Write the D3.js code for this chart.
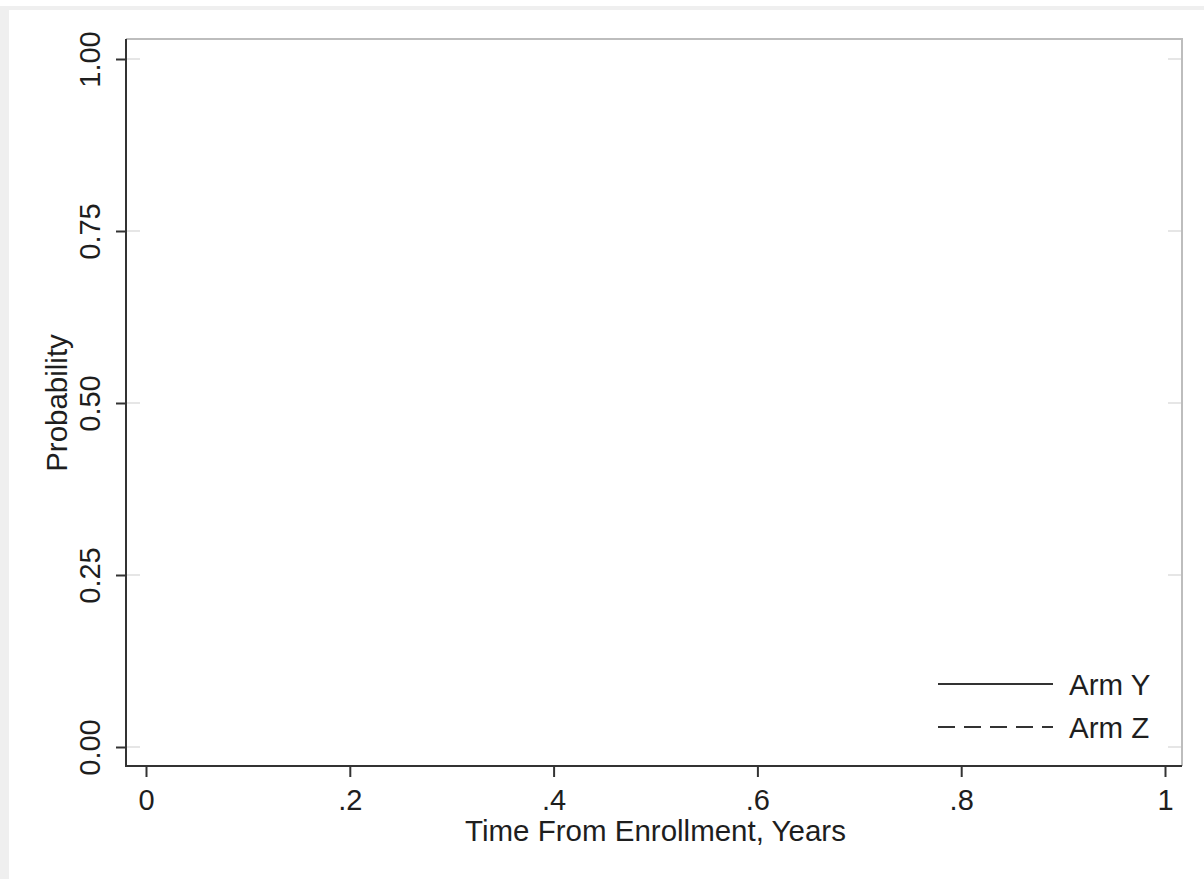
<!DOCTYPE html>
<html>
<head>
<meta charset="utf-8">
<script src="https://cdn.jsdelivr.net/npm/d3@7"></script>
<style>
  body { margin: 0; background: #fff; }
  text { font-family: "Liberation Sans", Arial, sans-serif; fill: #1e1e1e; }
</style>
</head>
<body>
<svg id="chart" width="1204" height="879"></svg>
<script>
// tick values + labels
var xTicks = [0, 0.2, 0.4, 0.6, 0.8, 1];
var xTickLabels = ["0", ".2", ".4", ".6", ".8", "1"];
var yTicks = [0, 0.25, 0.5, 0.75, 1];
var yTickLabels = ["0.00", "0.25", "0.50", "0.75", "1.00"];
// series (no points shown in the figure)
var seriesNames = ["Arm Y", "Arm Z"];
var armY = [];
var armZ = [];

var width = 1204, height = 879;
// plot frame
var frame = {left: 126, top: 39, right: 1182, bottom: 766};

var svg = d3.select("#chart");

// gray window border
svg.append("rect").attr("x", 0).attr("y", 6).attr("width", width).attr("height", height - 6).attr("fill", "#efefef");
svg.append("rect").attr("x", 9).attr("y", 10).attr("width", width - 9).attr("height", height - 10).attr("fill", "#fff");

var x = d3.scaleLinear().domain([0, 1]).range([146, 1165]);
var y = d3.scaleLinear().domain([0, 1]).range([747, 59]);

// faint grid stubs at the y ticks
yTicks.forEach(function(v) {
  svg.append("line").attr("x1", frame.left + 1).attr("x2", frame.left + 14)
    .attr("y1", y(v)).attr("y2", y(v)).attr("stroke", "#e6e6e6").attr("stroke-width", 2);
  svg.append("line").attr("x1", frame.right - 14).attr("x2", frame.right - 1)
    .attr("y1", y(v)).attr("y2", y(v)).attr("stroke", "#e6e6e6").attr("stroke-width", 2);
});

// top + right frame (light)
svg.append("path")
  .attr("d", "M" + frame.left + "," + frame.top + "H" + frame.right + "V" + frame.bottom)
  .attr("fill", "none").attr("stroke", "#bdbdbd").attr("stroke-width", 2);

// x axis
var xAxis = svg.append("g")
  .attr("transform", "translate(0," + frame.bottom + ")")
  .call(d3.axisBottom(x).tickValues(xTicks).tickSize(11).tickSizeOuter(0)
    .tickFormat(function(d, i) { return xTickLabels[i]; }));
xAxis.select(".domain").remove();
xAxis.selectAll(".tick line").attr("stroke", "#333").attr("stroke-width", 2);
xAxis.selectAll(".tick text")
  .attr("y", 44).attr("dy", 0)
  .style("font-size", "29px").attr("fill", "#1e1e1e");

// y axis
var yAxis = svg.append("g")
  .attr("transform", "translate(" + frame.left + ",0)")
  .call(d3.axisLeft(y).tickValues(yTicks).tickSize(10).tickSizeOuter(0)
    .tickFormat(function(d, i) { return yTickLabels[i]; }));
yAxis.select(".domain").remove();
yAxis.selectAll(".tick line").attr("stroke", "#333").attr("stroke-width", 2);
yAxis.selectAll(".tick text")
  .attr("transform", "rotate(-90)")
  .attr("x", 0).attr("y", -26).attr("dy", 0)
  .attr("text-anchor", "middle")
  .style("font-size", "29px").attr("fill", "#1e1e1e");

// left + bottom frame (dark)
svg.append("path")
  .attr("d", "M" + frame.left + "," + frame.top + "V" + frame.bottom + "H" + frame.right)
  .attr("fill", "none").attr("stroke", "#333").attr("stroke-width", 2);

// axis titles
svg.append("text")
  .attr("x", (x(0) + x(1)) / 2).attr("y", 841)
  .attr("text-anchor", "middle")
  .style("font-size", "29.5px")
  .text("Time From Enrollment, Years");

svg.append("text")
  .attr("transform", "translate(67," + y(0.5) + ") rotate(-90)")
  .attr("text-anchor", "middle")
  .style("font-size", "29.5px")
  .text("Probability");

// series lines (empty)
var line = d3.line().x(function(d) { return x(d[0]); }).y(function(d) { return y(d[1]); }).curve(d3.curveStepAfter);
svg.append("path").datum(armY).attr("d", line).attr("fill", "none").attr("stroke", "#333").attr("stroke-width", 2);
svg.append("path").datum(armZ).attr("d", line).attr("fill", "none").attr("stroke", "#333").attr("stroke-width", 2).attr("stroke-dasharray", "17,9");

// legend
var dashes = [null, "17,9"];
var legend = svg.append("g").attr("transform", "translate(938,684)");
seriesNames.forEach(function(name, i) {
  var row = legend.append("g").attr("transform", "translate(0," + (i * 43) + ")");
  row.append("line").attr("x1", 0).attr("x2", 115).attr("y1", 0).attr("y2", 0)
    .attr("stroke", "#333").attr("stroke-width", 2)
    .attr("stroke-dasharray", dashes[i]);
  row.append("text").attr("x", 131).attr("y", 11)
    .style("font-size", "29.5px").text(name);
});
</script>
</body>
</html>
